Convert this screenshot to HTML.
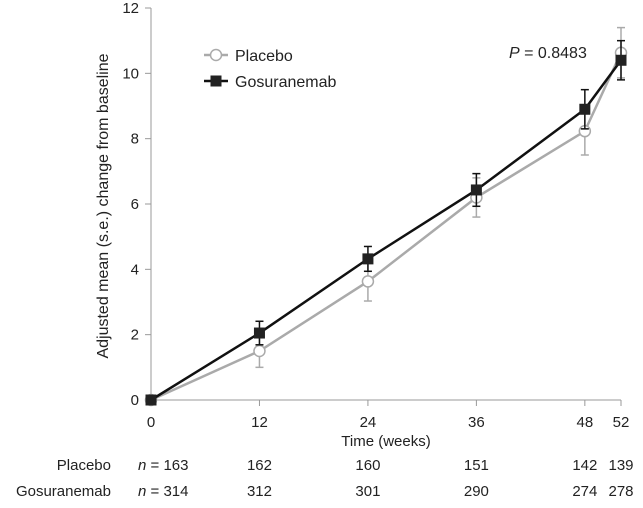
<!DOCTYPE html>
<html><head><meta charset="utf-8"><style>
body{margin:0;background:#fff;font-family:"Liberation Sans",Arial,sans-serif}
svg text{font-family:"Liberation Sans",Arial,sans-serif;font-size:15px;fill:#222}
</style></head><body>
<svg id="c" width="643" height="503" viewBox="0 0 643 503" xmlns="http://www.w3.org/2000/svg"></svg>
<script>
const weeks=[0,12,24,36,48,52];
const yTicks=[0,2,4,6,8,10,12];
const placebo=[0,1.5,3.63,6.2,8.23,10.63];
const placeboErr=[0,0.5,0.6,0.6,0.73,0.77];
const gosu=[0,2.05,4.32,6.43,8.9,10.4];
const gosuErr=[0,0.36,0.38,0.5,0.6,0.6];
const nPlacebo=["163","162","160","151","142","139"];
const nGosu=["314","312","301","290","274","278"];
const X0=151,X1=621,Y0=400,Y1=8;
const xs=w=>X0+(X1-X0)*w/52;
const ys=v=>Y0-(Y0-Y1)*v/12;
const svg=document.getElementById('c');
const NS="http://www.w3.org/2000/svg";
function mk(t,a,txt){const e=document.createElementNS(NS,t);for(const k in a)e.setAttribute(k,a[k]);if(txt!==undefined)e.textContent=txt;svg.appendChild(e);return e;}
let e;
e=mk('line',{x1:X0,y1:Y0,x2:X1,y2:Y0,stroke:'#999','stroke-width':1});

e=mk('line',{x1:X0,y1:Y0,x2:X0,y2:Y1,stroke:'#999','stroke-width':1});

yTicks.forEach(v=>{
 mk('line',{x1:X0-6,y1:ys(v),x2:X0,y2:ys(v),stroke:'#999'});
 e=mk('text',{x:X0-12,y:ys(v)+5,'text-anchor':'end'},String(v));
 
});
weeks.forEach((w,i)=>{
 mk('line',{x1:xs(w),y1:Y0,x2:xs(w),y2:Y0+6,stroke:'#999'});
 e=mk('text',{x:xs(w),y:Y0+27,'text-anchor':'middle'},String(w));
 
 if(i==0){
  e=mk('text',{x:xs(w)-13,y:470});e.innerHTML='<tspan font-style="italic">n</tspan> = '+nPlacebo[i];
 } else e=mk('text',{x:xs(w),y:470,'text-anchor':'middle'},nPlacebo[i]);
 
 if(i==0){
  e=mk('text',{x:xs(w)-13,y:496});e.innerHTML='<tspan font-style="italic">n</tspan> = '+nGosu[i];
 } else e=mk('text',{x:xs(w),y:496,'text-anchor':'middle'},nGosu[i]);
 
});
e=mk('text',{x:386,y:446,'text-anchor':'middle'},'Time (weeks)');

e=mk('text',{x:108,y:206,'text-anchor':'middle',style:'font-size:16px',transform:'rotate(-90 108 206)'},'Adjusted mean (s.e.) change from baseline');

e=mk('text',{x:111,y:470,'text-anchor':'end'},'Placebo');

e=mk('text',{x:111,y:496,'text-anchor':'end'},'Gosuranemab');

function series(vals,err,col,name,square){
 weeks.forEach((w,i)=>{if(err[i]>0){
  const x=xs(w);
  mk('line',{x1:x,y1:ys(vals[i]-err[i]),x2:x,y2:ys(vals[i]+err[i]),stroke:col,'stroke-width':1.5});
  mk('line',{x1:x-4,y1:ys(vals[i]-err[i]),x2:x+4,y2:ys(vals[i]-err[i]),stroke:col,'stroke-width':1.5});
  mk('line',{x1:x-4,y1:ys(vals[i]+err[i]),x2:x+4,y2:ys(vals[i]+err[i]),stroke:col,'stroke-width':1.5});
 }});
 e=mk('polyline',{points:weeks.map((w,i)=>xs(w)+','+ys(vals[i])).join(' '),fill:'none',stroke:col,'stroke-width':2.5});
 
 weeks.forEach((w,i)=>{
  if(square) e=mk('rect',{x:xs(w)-5.5,y:ys(vals[i])-5.5,width:11,height:11,fill:'#222'});
  else e=mk('circle',{cx:xs(w),cy:ys(vals[i]),r:5.5,fill:'#fff',stroke:col,'stroke-width':1.5});
  
 });
}
series(placebo,placeboErr,'#aaa','placebo',false);
series(gosu,gosuErr,'#111','gosuranemab',true);
mk('line',{x1:204,y1:55,x2:228,y2:55,stroke:'#aaa','stroke-width':2.5});
mk('circle',{cx:216,cy:55,r:5.5,fill:'#fff',stroke:'#aaa','stroke-width':1.5});
e=mk('text',{x:235,y:61,style:'font-size:16px'},'Placebo');

mk('line',{x1:204,y1:81,x2:228,y2:81,stroke:'#111','stroke-width':2.5});
mk('rect',{x:210.5,y:75.5,width:11,height:11,fill:'#222'});
e=mk('text',{x:235,y:87,style:'font-size:16px'},'Gosuranemab');

e=mk('text',{x:509,y:58,style:'font-size:16px'});
e.innerHTML='<tspan font-style="italic">P</tspan> = 0.8483';

</script>
</body></html>
